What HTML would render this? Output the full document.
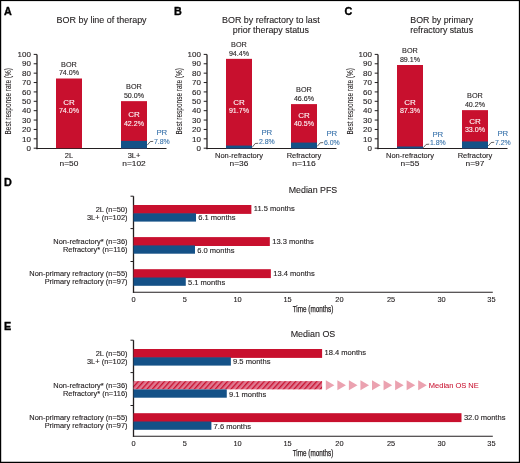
<!DOCTYPE html>
<html><head><meta charset="utf-8"><style>
html,body{margin:0;padding:0;background:#fff;}
svg{display:block;font-family:"Liberation Sans", sans-serif;will-change:transform;}
</style></head><body>
<svg width="520" height="463" viewBox="0 0 520 463">
<rect width="520" height="463" fill="#fff"/>
<defs><pattern id="hatch" patternUnits="userSpaceOnUse" width="3.9" height="10" patternTransform="translate(133.5,380) rotate(42)">
<rect width="3.9" height="10" fill="#e07890"/><rect width="1.3" height="10" fill="#c8102e"/></pattern></defs>
<rect x="0" y="0" width="520" height="1.1" fill="#000"/>
<rect x="0" y="0" width="1.2" height="463" fill="#000"/>
<rect x="518.85" y="0" width="1.15" height="463" fill="#000"/>
<rect x="0" y="461.75" width="520" height="1.25" fill="#000"/>
<text x="4" y="15" font-size="10.8" text-anchor="start" fill="#000" font-weight="bold" stroke="#000" stroke-width="0.35" >A</text>
<text x="101.6" y="22.6" font-size="9.8" text-anchor="middle" fill="#231f20" font-weight="normal" textLength="90" lengthAdjust="spacingAndGlyphs" stroke="#231f20" stroke-width="0.12" >BOR by line of therapy</text>
<text transform="translate(11.3,101.3) rotate(-90)" font-size="9.3" text-anchor="middle" fill="#231f20" stroke="#231f20" stroke-width="0.1" textLength="66.4" lengthAdjust="spacingAndGlyphs">Best response rate (%)</text>
<line x1="37" y1="54.5" x2="37" y2="149.2" stroke="#231f20" stroke-width="1.3"/>
<line x1="36.4" y1="148.5" x2="166.5" y2="148.5" stroke="#231f20" stroke-width="1.1"/>
<line x1="33.7" y1="148.2" x2="37" y2="148.2" stroke="#231f20" stroke-width="1.0"/>
<text x="30.9" y="150.89999999999998" font-size="8.0" text-anchor="end" fill="#231f20" font-weight="normal" stroke="#231f20" stroke-width="0.12" >0</text>
<line x1="33.7" y1="138.82" x2="37" y2="138.82" stroke="#231f20" stroke-width="1.0"/>
<text x="30.9" y="141.51999999999998" font-size="8.0" text-anchor="end" fill="#231f20" font-weight="normal" stroke="#231f20" stroke-width="0.12" >10</text>
<line x1="33.7" y1="129.44" x2="37" y2="129.44" stroke="#231f20" stroke-width="1.0"/>
<text x="30.9" y="132.14" font-size="8.0" text-anchor="end" fill="#231f20" font-weight="normal" stroke="#231f20" stroke-width="0.12" >20</text>
<line x1="33.7" y1="120.05999999999999" x2="37" y2="120.05999999999999" stroke="#231f20" stroke-width="1.0"/>
<text x="30.9" y="122.75999999999999" font-size="8.0" text-anchor="end" fill="#231f20" font-weight="normal" stroke="#231f20" stroke-width="0.12" >30</text>
<line x1="33.7" y1="110.67999999999999" x2="37" y2="110.67999999999999" stroke="#231f20" stroke-width="1.0"/>
<text x="30.9" y="113.38" font-size="8.0" text-anchor="end" fill="#231f20" font-weight="normal" stroke="#231f20" stroke-width="0.12" >40</text>
<line x1="33.7" y1="101.29999999999998" x2="37" y2="101.29999999999998" stroke="#231f20" stroke-width="1.0"/>
<text x="30.9" y="103.99999999999999" font-size="8.0" text-anchor="end" fill="#231f20" font-weight="normal" stroke="#231f20" stroke-width="0.12" >50</text>
<line x1="33.7" y1="91.91999999999999" x2="37" y2="91.91999999999999" stroke="#231f20" stroke-width="1.0"/>
<text x="30.9" y="94.61999999999999" font-size="8.0" text-anchor="end" fill="#231f20" font-weight="normal" stroke="#231f20" stroke-width="0.12" >60</text>
<line x1="33.7" y1="82.53999999999999" x2="37" y2="82.53999999999999" stroke="#231f20" stroke-width="1.0"/>
<text x="30.9" y="85.24" font-size="8.0" text-anchor="end" fill="#231f20" font-weight="normal" stroke="#231f20" stroke-width="0.12" >70</text>
<line x1="33.7" y1="73.16" x2="37" y2="73.16" stroke="#231f20" stroke-width="1.0"/>
<text x="30.9" y="75.86" font-size="8.0" text-anchor="end" fill="#231f20" font-weight="normal" stroke="#231f20" stroke-width="0.12" >80</text>
<line x1="33.7" y1="63.77999999999999" x2="37" y2="63.77999999999999" stroke="#231f20" stroke-width="1.0"/>
<text x="30.9" y="66.47999999999999" font-size="8.0" text-anchor="end" fill="#231f20" font-weight="normal" stroke="#231f20" stroke-width="0.12" >90</text>
<line x1="33.7" y1="54.39999999999999" x2="37" y2="54.39999999999999" stroke="#231f20" stroke-width="1.0"/>
<text x="30.9" y="57.099999999999994" font-size="8.0" text-anchor="end" fill="#231f20" font-weight="normal" stroke="#231f20" stroke-width="0.12" >100</text>
<rect x="56" y="78.5" width="26" height="69.69999999999999" fill="#c8102e"/>
<text x="69.0" y="66.8" font-size="8.0" text-anchor="middle" fill="#231f20" font-weight="normal" textLength="15.8" lengthAdjust="spacingAndGlyphs" stroke="#231f20" stroke-width="0.12" >BOR</text>
<text x="69.0" y="75.3" font-size="8.0" text-anchor="middle" fill="#231f20" font-weight="normal" textLength="20.2" lengthAdjust="spacingAndGlyphs" stroke="#231f20" stroke-width="0.12" >74.0%</text>
<text x="69.0" y="104.6" font-size="8.0" text-anchor="middle" fill="#fff" font-weight="normal" stroke="#fff" stroke-width="0.08" >CR</text>
<text x="69.0" y="112.89999999999999" font-size="8.0" text-anchor="middle" fill="#fff" font-weight="normal" textLength="20.2" lengthAdjust="spacingAndGlyphs" stroke="#fff" stroke-width="0.08" >74.0%</text>
<text x="69.0" y="157.5" font-size="7.5" text-anchor="middle" fill="#231f20" font-weight="normal" stroke="#231f20" stroke-width="0.12" >2L</text>
<text x="69.0" y="166.3" font-size="7.6" text-anchor="middle" fill="#231f20" font-weight="normal" textLength="18.83" lengthAdjust="spacingAndGlyphs" stroke="#231f20" stroke-width="0.12" >n=50</text>
<rect x="121" y="101.15" width="26" height="47.04999999999998" fill="#c8102e"/>
<rect x="121" y="140.8836" width="26" height="7.616399999999987" fill="#145187"/>
<text x="134.0" y="89.45" font-size="8.0" text-anchor="middle" fill="#231f20" font-weight="normal" textLength="15.8" lengthAdjust="spacingAndGlyphs" stroke="#231f20" stroke-width="0.12" >BOR</text>
<text x="134.0" y="97.95" font-size="8.0" text-anchor="middle" fill="#231f20" font-weight="normal" textLength="20.2" lengthAdjust="spacingAndGlyphs" stroke="#231f20" stroke-width="0.12" >50.0%</text>
<text x="134.0" y="117.2" font-size="8.0" text-anchor="middle" fill="#fff" font-weight="normal" stroke="#fff" stroke-width="0.08" >CR</text>
<text x="134.0" y="125.5" font-size="8.0" text-anchor="middle" fill="#fff" font-weight="normal" textLength="20.2" lengthAdjust="spacingAndGlyphs" stroke="#fff" stroke-width="0.08" >42.2%</text>
<polyline points="147.2,145.2 150.2,141.6 153.2,141.4" fill="none" stroke="#231f20" stroke-width="0.7"/>
<text x="153.9" y="143.8" font-size="7.8" text-anchor="start" fill="#3a74ac" font-weight="normal" textLength="15.8" lengthAdjust="spacingAndGlyphs" stroke="#3a74ac" stroke-width="0.12" >7.8%</text>
<text x="161.8" y="135.4" font-size="7.8" text-anchor="middle" fill="#3a74ac" font-weight="normal" stroke="#3a74ac" stroke-width="0.12" >PR</text>
<text x="134.0" y="157.5" font-size="7.5" text-anchor="middle" fill="#231f20" font-weight="normal" stroke="#231f20" stroke-width="0.12" >3L+</text>
<text x="134.0" y="166.3" font-size="7.6" text-anchor="middle" fill="#231f20" font-weight="normal" textLength="23.47" lengthAdjust="spacingAndGlyphs" stroke="#231f20" stroke-width="0.12" >n=102</text>
<text x="174" y="15" font-size="10.8" text-anchor="start" fill="#000" font-weight="bold" stroke="#000" stroke-width="0.35" >B</text>
<text x="270.9" y="22.6" font-size="9.8" text-anchor="middle" fill="#231f20" font-weight="normal" textLength="97.7" lengthAdjust="spacingAndGlyphs" stroke="#231f20" stroke-width="0.12" >BOR by refractory to last</text>
<text x="270.9" y="32.5" font-size="9.8" text-anchor="middle" fill="#231f20" font-weight="normal" textLength="76.2" lengthAdjust="spacingAndGlyphs" stroke="#231f20" stroke-width="0.12" >prior therapy status</text>
<text transform="translate(182.2,101.3) rotate(-90)" font-size="9.3" text-anchor="middle" fill="#231f20" stroke="#231f20" stroke-width="0.1" textLength="66.4" lengthAdjust="spacingAndGlyphs">Best response rate (%)</text>
<line x1="207" y1="54.5" x2="207" y2="149.2" stroke="#231f20" stroke-width="1.3"/>
<line x1="206.4" y1="148.5" x2="336.5" y2="148.5" stroke="#231f20" stroke-width="1.1"/>
<line x1="203.7" y1="148.2" x2="207" y2="148.2" stroke="#231f20" stroke-width="1.0"/>
<text x="200.9" y="150.89999999999998" font-size="8.0" text-anchor="end" fill="#231f20" font-weight="normal" stroke="#231f20" stroke-width="0.12" >0</text>
<line x1="203.7" y1="138.82" x2="207" y2="138.82" stroke="#231f20" stroke-width="1.0"/>
<text x="200.9" y="141.51999999999998" font-size="8.0" text-anchor="end" fill="#231f20" font-weight="normal" stroke="#231f20" stroke-width="0.12" >10</text>
<line x1="203.7" y1="129.44" x2="207" y2="129.44" stroke="#231f20" stroke-width="1.0"/>
<text x="200.9" y="132.14" font-size="8.0" text-anchor="end" fill="#231f20" font-weight="normal" stroke="#231f20" stroke-width="0.12" >20</text>
<line x1="203.7" y1="120.05999999999999" x2="207" y2="120.05999999999999" stroke="#231f20" stroke-width="1.0"/>
<text x="200.9" y="122.75999999999999" font-size="8.0" text-anchor="end" fill="#231f20" font-weight="normal" stroke="#231f20" stroke-width="0.12" >30</text>
<line x1="203.7" y1="110.67999999999999" x2="207" y2="110.67999999999999" stroke="#231f20" stroke-width="1.0"/>
<text x="200.9" y="113.38" font-size="8.0" text-anchor="end" fill="#231f20" font-weight="normal" stroke="#231f20" stroke-width="0.12" >40</text>
<line x1="203.7" y1="101.29999999999998" x2="207" y2="101.29999999999998" stroke="#231f20" stroke-width="1.0"/>
<text x="200.9" y="103.99999999999999" font-size="8.0" text-anchor="end" fill="#231f20" font-weight="normal" stroke="#231f20" stroke-width="0.12" >50</text>
<line x1="203.7" y1="91.91999999999999" x2="207" y2="91.91999999999999" stroke="#231f20" stroke-width="1.0"/>
<text x="200.9" y="94.61999999999999" font-size="8.0" text-anchor="end" fill="#231f20" font-weight="normal" stroke="#231f20" stroke-width="0.12" >60</text>
<line x1="203.7" y1="82.53999999999999" x2="207" y2="82.53999999999999" stroke="#231f20" stroke-width="1.0"/>
<text x="200.9" y="85.24" font-size="8.0" text-anchor="end" fill="#231f20" font-weight="normal" stroke="#231f20" stroke-width="0.12" >70</text>
<line x1="203.7" y1="73.16" x2="207" y2="73.16" stroke="#231f20" stroke-width="1.0"/>
<text x="200.9" y="75.86" font-size="8.0" text-anchor="end" fill="#231f20" font-weight="normal" stroke="#231f20" stroke-width="0.12" >80</text>
<line x1="203.7" y1="63.77999999999999" x2="207" y2="63.77999999999999" stroke="#231f20" stroke-width="1.0"/>
<text x="200.9" y="66.47999999999999" font-size="8.0" text-anchor="end" fill="#231f20" font-weight="normal" stroke="#231f20" stroke-width="0.12" >90</text>
<line x1="203.7" y1="54.39999999999999" x2="207" y2="54.39999999999999" stroke="#231f20" stroke-width="1.0"/>
<text x="200.9" y="57.099999999999994" font-size="8.0" text-anchor="end" fill="#231f20" font-weight="normal" stroke="#231f20" stroke-width="0.12" >100</text>
<rect x="226" y="58.85" width="26" height="89.35" fill="#c8102e"/>
<rect x="226" y="145.5736" width="26" height="2.9263999999999895" fill="#145187"/>
<text x="239.0" y="47.150000000000006" font-size="8.0" text-anchor="middle" fill="#231f20" font-weight="normal" textLength="15.8" lengthAdjust="spacingAndGlyphs" stroke="#231f20" stroke-width="0.12" >BOR</text>
<text x="239.0" y="55.65" font-size="8.0" text-anchor="middle" fill="#231f20" font-weight="normal" textLength="20.2" lengthAdjust="spacingAndGlyphs" stroke="#231f20" stroke-width="0.12" >94.4%</text>
<text x="239.0" y="104.6" font-size="8.0" text-anchor="middle" fill="#fff" font-weight="normal" stroke="#fff" stroke-width="0.08" >CR</text>
<text x="239.0" y="112.89999999999999" font-size="8.0" text-anchor="middle" fill="#fff" font-weight="normal" textLength="20.2" lengthAdjust="spacingAndGlyphs" stroke="#fff" stroke-width="0.08" >91.7%</text>
<polyline points="252.2,147.4 255.2,143.5 258.2,143.3" fill="none" stroke="#231f20" stroke-width="0.7"/>
<text x="258.9" y="143.8" font-size="7.8" text-anchor="start" fill="#3a74ac" font-weight="normal" textLength="15.8" lengthAdjust="spacingAndGlyphs" stroke="#3a74ac" stroke-width="0.12" >2.8%</text>
<text x="266.8" y="135.1" font-size="7.8" text-anchor="middle" fill="#3a74ac" font-weight="normal" stroke="#3a74ac" stroke-width="0.12" >PR</text>
<text x="239.0" y="157.5" font-size="7.5" text-anchor="middle" fill="#231f20" font-weight="normal" stroke="#231f20" stroke-width="0.12" >Non-refractory</text>
<text x="239.0" y="166.3" font-size="7.6" text-anchor="middle" fill="#231f20" font-weight="normal" textLength="18.83" lengthAdjust="spacingAndGlyphs" stroke="#231f20" stroke-width="0.12" >n=36</text>
<rect x="291" y="104.1" width="26" height="44.099999999999994" fill="#c8102e"/>
<rect x="291" y="142.572" width="26" height="5.927999999999986" fill="#145187"/>
<text x="304.0" y="92.39999999999999" font-size="8.0" text-anchor="middle" fill="#231f20" font-weight="normal" textLength="15.8" lengthAdjust="spacingAndGlyphs" stroke="#231f20" stroke-width="0.12" >BOR</text>
<text x="304.0" y="100.89999999999999" font-size="8.0" text-anchor="middle" fill="#231f20" font-weight="normal" textLength="20.2" lengthAdjust="spacingAndGlyphs" stroke="#231f20" stroke-width="0.12" >46.6%</text>
<text x="304.0" y="117.6" font-size="8.0" text-anchor="middle" fill="#fff" font-weight="normal" stroke="#fff" stroke-width="0.08" >CR</text>
<text x="304.0" y="125.89999999999999" font-size="8.0" text-anchor="middle" fill="#fff" font-weight="normal" textLength="20.2" lengthAdjust="spacingAndGlyphs" stroke="#fff" stroke-width="0.08" >40.5%</text>
<polyline points="317.2,146.4 320.2,142.8 323.2,142.60000000000002" fill="none" stroke="#231f20" stroke-width="0.7"/>
<text x="323.9" y="144.5" font-size="7.8" text-anchor="start" fill="#3a74ac" font-weight="normal" textLength="15.8" lengthAdjust="spacingAndGlyphs" stroke="#3a74ac" stroke-width="0.12" >6.0%</text>
<text x="331.8" y="135.8" font-size="7.8" text-anchor="middle" fill="#3a74ac" font-weight="normal" stroke="#3a74ac" stroke-width="0.12" >PR</text>
<text x="304.0" y="157.5" font-size="7.5" text-anchor="middle" fill="#231f20" font-weight="normal" stroke="#231f20" stroke-width="0.12" >Refractory</text>
<text x="304.0" y="166.3" font-size="7.6" text-anchor="middle" fill="#231f20" font-weight="normal" textLength="23.47" lengthAdjust="spacingAndGlyphs" stroke="#231f20" stroke-width="0.12" >n=116</text>
<text x="344.5" y="15" font-size="10.8" text-anchor="start" fill="#000" font-weight="bold" stroke="#000" stroke-width="0.35" >C</text>
<text x="441.7" y="22.6" font-size="9.8" text-anchor="middle" fill="#231f20" font-weight="normal" textLength="62.8" lengthAdjust="spacingAndGlyphs" stroke="#231f20" stroke-width="0.12" >BOR by primary</text>
<text x="441.7" y="32.5" font-size="9.8" text-anchor="middle" fill="#231f20" font-weight="normal" textLength="62.8" lengthAdjust="spacingAndGlyphs" stroke="#231f20" stroke-width="0.12" >refractory status</text>
<text transform="translate(353.2,101.3) rotate(-90)" font-size="9.3" text-anchor="middle" fill="#231f20" stroke="#231f20" stroke-width="0.1" textLength="66.4" lengthAdjust="spacingAndGlyphs">Best response rate (%)</text>
<line x1="378" y1="54.5" x2="378" y2="149.2" stroke="#231f20" stroke-width="1.3"/>
<line x1="377.4" y1="148.5" x2="507.5" y2="148.5" stroke="#231f20" stroke-width="1.1"/>
<line x1="374.7" y1="148.2" x2="378" y2="148.2" stroke="#231f20" stroke-width="1.0"/>
<text x="371.9" y="150.89999999999998" font-size="8.0" text-anchor="end" fill="#231f20" font-weight="normal" stroke="#231f20" stroke-width="0.12" >0</text>
<line x1="374.7" y1="138.82" x2="378" y2="138.82" stroke="#231f20" stroke-width="1.0"/>
<text x="371.9" y="141.51999999999998" font-size="8.0" text-anchor="end" fill="#231f20" font-weight="normal" stroke="#231f20" stroke-width="0.12" >10</text>
<line x1="374.7" y1="129.44" x2="378" y2="129.44" stroke="#231f20" stroke-width="1.0"/>
<text x="371.9" y="132.14" font-size="8.0" text-anchor="end" fill="#231f20" font-weight="normal" stroke="#231f20" stroke-width="0.12" >20</text>
<line x1="374.7" y1="120.05999999999999" x2="378" y2="120.05999999999999" stroke="#231f20" stroke-width="1.0"/>
<text x="371.9" y="122.75999999999999" font-size="8.0" text-anchor="end" fill="#231f20" font-weight="normal" stroke="#231f20" stroke-width="0.12" >30</text>
<line x1="374.7" y1="110.67999999999999" x2="378" y2="110.67999999999999" stroke="#231f20" stroke-width="1.0"/>
<text x="371.9" y="113.38" font-size="8.0" text-anchor="end" fill="#231f20" font-weight="normal" stroke="#231f20" stroke-width="0.12" >40</text>
<line x1="374.7" y1="101.29999999999998" x2="378" y2="101.29999999999998" stroke="#231f20" stroke-width="1.0"/>
<text x="371.9" y="103.99999999999999" font-size="8.0" text-anchor="end" fill="#231f20" font-weight="normal" stroke="#231f20" stroke-width="0.12" >50</text>
<line x1="374.7" y1="91.91999999999999" x2="378" y2="91.91999999999999" stroke="#231f20" stroke-width="1.0"/>
<text x="371.9" y="94.61999999999999" font-size="8.0" text-anchor="end" fill="#231f20" font-weight="normal" stroke="#231f20" stroke-width="0.12" >60</text>
<line x1="374.7" y1="82.53999999999999" x2="378" y2="82.53999999999999" stroke="#231f20" stroke-width="1.0"/>
<text x="371.9" y="85.24" font-size="8.0" text-anchor="end" fill="#231f20" font-weight="normal" stroke="#231f20" stroke-width="0.12" >70</text>
<line x1="374.7" y1="73.16" x2="378" y2="73.16" stroke="#231f20" stroke-width="1.0"/>
<text x="371.9" y="75.86" font-size="8.0" text-anchor="end" fill="#231f20" font-weight="normal" stroke="#231f20" stroke-width="0.12" >80</text>
<line x1="374.7" y1="63.77999999999999" x2="378" y2="63.77999999999999" stroke="#231f20" stroke-width="1.0"/>
<text x="371.9" y="66.47999999999999" font-size="8.0" text-anchor="end" fill="#231f20" font-weight="normal" stroke="#231f20" stroke-width="0.12" >90</text>
<line x1="374.7" y1="54.39999999999999" x2="378" y2="54.39999999999999" stroke="#231f20" stroke-width="1.0"/>
<text x="371.9" y="57.099999999999994" font-size="8.0" text-anchor="end" fill="#231f20" font-weight="normal" stroke="#231f20" stroke-width="0.12" >100</text>
<rect x="397" y="65.0" width="26" height="83.19999999999999" fill="#c8102e"/>
<rect x="397" y="146.5116" width="26" height="1.9884000000000015" fill="#145187"/>
<text x="410.0" y="53.3" font-size="8.0" text-anchor="middle" fill="#231f20" font-weight="normal" textLength="15.8" lengthAdjust="spacingAndGlyphs" stroke="#231f20" stroke-width="0.12" >BOR</text>
<text x="410.0" y="61.8" font-size="8.0" text-anchor="middle" fill="#231f20" font-weight="normal" textLength="20.2" lengthAdjust="spacingAndGlyphs" stroke="#231f20" stroke-width="0.12" >89.1%</text>
<text x="410.0" y="104.6" font-size="8.0" text-anchor="middle" fill="#fff" font-weight="normal" stroke="#fff" stroke-width="0.08" >CR</text>
<text x="410.0" y="112.89999999999999" font-size="8.0" text-anchor="middle" fill="#fff" font-weight="normal" textLength="20.2" lengthAdjust="spacingAndGlyphs" stroke="#fff" stroke-width="0.08" >87.3%</text>
<polyline points="423.2,147.8 426.2,144.4 429.2,144.20000000000002" fill="none" stroke="#231f20" stroke-width="0.7"/>
<text x="429.9" y="145.20000000000002" font-size="7.8" text-anchor="start" fill="#3a74ac" font-weight="normal" textLength="15.8" lengthAdjust="spacingAndGlyphs" stroke="#3a74ac" stroke-width="0.12" >1.8%</text>
<text x="437.8" y="136.8" font-size="7.8" text-anchor="middle" fill="#3a74ac" font-weight="normal" stroke="#3a74ac" stroke-width="0.12" >PR</text>
<text x="410.0" y="157.5" font-size="7.5" text-anchor="middle" fill="#231f20" font-weight="normal" stroke="#231f20" stroke-width="0.12" >Non-refractory</text>
<text x="410.0" y="166.3" font-size="7.6" text-anchor="middle" fill="#231f20" font-weight="normal" textLength="18.83" lengthAdjust="spacingAndGlyphs" stroke="#231f20" stroke-width="0.12" >n=55</text>
<rect x="462" y="110.15" width="26" height="38.04999999999998" fill="#c8102e"/>
<rect x="462" y="141.44639999999998" width="26" height="7.053600000000006" fill="#145187"/>
<text x="475.0" y="98.45" font-size="8.0" text-anchor="middle" fill="#231f20" font-weight="normal" textLength="15.8" lengthAdjust="spacingAndGlyphs" stroke="#231f20" stroke-width="0.12" >BOR</text>
<text x="475.0" y="106.95" font-size="8.0" text-anchor="middle" fill="#231f20" font-weight="normal" textLength="20.2" lengthAdjust="spacingAndGlyphs" stroke="#231f20" stroke-width="0.12" >40.2%</text>
<text x="475.0" y="123.5" font-size="8.0" text-anchor="middle" fill="#fff" font-weight="normal" stroke="#fff" stroke-width="0.08" >CR</text>
<text x="475.0" y="131.8" font-size="8.0" text-anchor="middle" fill="#fff" font-weight="normal" textLength="20.2" lengthAdjust="spacingAndGlyphs" stroke="#fff" stroke-width="0.08" >33.0%</text>
<polyline points="488.2,146.0 491.2,142.5 494.2,142.3" fill="none" stroke="#231f20" stroke-width="0.7"/>
<text x="494.9" y="144.8" font-size="7.8" text-anchor="start" fill="#3a74ac" font-weight="normal" textLength="15.8" lengthAdjust="spacingAndGlyphs" stroke="#3a74ac" stroke-width="0.12" >7.2%</text>
<text x="502.8" y="135.8" font-size="7.8" text-anchor="middle" fill="#3a74ac" font-weight="normal" stroke="#3a74ac" stroke-width="0.12" >PR</text>
<text x="475.0" y="157.5" font-size="7.5" text-anchor="middle" fill="#231f20" font-weight="normal" stroke="#231f20" stroke-width="0.12" >Refractory</text>
<text x="475.0" y="166.3" font-size="7.6" text-anchor="middle" fill="#231f20" font-weight="normal" textLength="18.83" lengthAdjust="spacingAndGlyphs" stroke="#231f20" stroke-width="0.12" >n=97</text>
<text x="4" y="186" font-size="10.8" text-anchor="start" fill="#000" font-weight="bold" stroke="#000" stroke-width="0.35" >D</text>
<text x="313" y="192.7" font-size="9.7" text-anchor="middle" fill="#231f20" font-weight="normal" textLength="48.5" lengthAdjust="spacingAndGlyphs" stroke="#231f20" stroke-width="0.12" >Median PFS</text>
<line x1="133.5" y1="196.2" x2="133.5" y2="292.8" stroke="#231f20" stroke-width="1.3"/>
<line x1="132.9" y1="292.3" x2="492.8" y2="292.3" stroke="#231f20" stroke-width="1.1"/>
<line x1="130.5" y1="196.2" x2="133.5" y2="196.2" stroke="#231f20" stroke-width="1.0"/>
<line x1="130.5" y1="228.6" x2="133.5" y2="228.6" stroke="#231f20" stroke-width="1.0"/>
<line x1="130.5" y1="261.5" x2="133.5" y2="261.5" stroke="#231f20" stroke-width="1.0"/>
<text x="133.6" y="301.8" font-size="7.4" text-anchor="middle" fill="#231f20" font-weight="normal" stroke="#231f20" stroke-width="0.12" >0</text>
<text x="184.9" y="301.8" font-size="7.4" text-anchor="middle" fill="#231f20" font-weight="normal" stroke="#231f20" stroke-width="0.12" >5</text>
<text x="237.5" y="301.8" font-size="7.4" text-anchor="middle" fill="#231f20" font-weight="normal" stroke="#231f20" stroke-width="0.12" >10</text>
<text x="287.5" y="301.8" font-size="7.4" text-anchor="middle" fill="#231f20" font-weight="normal" stroke="#231f20" stroke-width="0.12" >15</text>
<text x="339.4" y="301.8" font-size="7.4" text-anchor="middle" fill="#231f20" font-weight="normal" stroke="#231f20" stroke-width="0.12" >20</text>
<text x="391.0" y="301.8" font-size="7.4" text-anchor="middle" fill="#231f20" font-weight="normal" stroke="#231f20" stroke-width="0.12" >25</text>
<text x="441.6" y="301.8" font-size="7.4" text-anchor="middle" fill="#231f20" font-weight="normal" stroke="#231f20" stroke-width="0.12" >30</text>
<text x="491.4" y="301.8" font-size="7.4" text-anchor="middle" fill="#231f20" font-weight="normal" stroke="#231f20" stroke-width="0.12" >35</text>
<text x="313" y="312.3" font-size="8.8" text-anchor="middle" fill="#231f20" font-weight="normal" textLength="40.7" lengthAdjust="spacingAndGlyphs" stroke="#231f20" stroke-width="0.25" >Time (months)</text>
<rect x="133.5" y="205.0" width="117.875" height="8.9" fill="#c8102e"/>
<rect x="133.5" y="213.3" width="62.525000000000006" height="8.3" fill="#145187"/>
<text x="127.5" y="211.7" font-size="7.45" text-anchor="end" fill="#231f20" font-weight="normal" stroke="#231f20" stroke-width="0.12" >2L (n=50)</text>
<text x="127.5" y="220.1" font-size="7.45" text-anchor="end" fill="#231f20" font-weight="normal" stroke="#231f20" stroke-width="0.12" >3L+ (n=102)</text>
<text x="253.775" y="211.4" font-size="7.55" text-anchor="start" fill="#231f20" font-weight="normal" stroke="#231f20" stroke-width="0.12" >11.5 months</text>
<text x="198.225" y="220.4" font-size="7.55" text-anchor="start" fill="#231f20" font-weight="normal" stroke="#231f20" stroke-width="0.12" >6.1 months</text>
<rect x="133.5" y="237.1" width="136.32500000000005" height="8.9" fill="#c8102e"/>
<rect x="133.5" y="245.4" width="61.5" height="8.3" fill="#145187"/>
<text x="127.5" y="243.79999999999998" font-size="7.45" text-anchor="end" fill="#231f20" font-weight="normal" stroke="#231f20" stroke-width="0.12" >Non-refractory* (n=36)</text>
<text x="127.5" y="252.2" font-size="7.45" text-anchor="end" fill="#231f20" font-weight="normal" stroke="#231f20" stroke-width="0.12" >Refractory* (n=116)</text>
<text x="272.225" y="243.5" font-size="7.55" text-anchor="start" fill="#231f20" font-weight="normal" stroke="#231f20" stroke-width="0.12" >13.3 months</text>
<text x="197.2" y="252.5" font-size="7.55" text-anchor="start" fill="#231f20" font-weight="normal" stroke="#231f20" stroke-width="0.12" >6.0 months</text>
<rect x="133.5" y="269.2" width="137.35000000000002" height="8.9" fill="#c8102e"/>
<rect x="133.5" y="277.5" width="52.275000000000006" height="8.3" fill="#145187"/>
<text x="127.5" y="275.9" font-size="7.45" text-anchor="end" fill="#231f20" font-weight="normal" stroke="#231f20" stroke-width="0.12" >Non-primary refractory (n=55)</text>
<text x="127.5" y="284.3" font-size="7.45" text-anchor="end" fill="#231f20" font-weight="normal" stroke="#231f20" stroke-width="0.12" >Primary refractory (n=97)</text>
<text x="273.25" y="275.59999999999997" font-size="7.55" text-anchor="start" fill="#231f20" font-weight="normal" stroke="#231f20" stroke-width="0.12" >13.4 months</text>
<text x="187.975" y="284.59999999999997" font-size="7.55" text-anchor="start" fill="#231f20" font-weight="normal" stroke="#231f20" stroke-width="0.12" >5.1 months</text>
<text x="4" y="330.0" font-size="10.8" text-anchor="start" fill="#000" font-weight="bold" stroke="#000" stroke-width="0.35" >E</text>
<text x="313" y="336.7" font-size="9.7" text-anchor="middle" fill="#231f20" font-weight="normal" textLength="44.6" lengthAdjust="spacingAndGlyphs" stroke="#231f20" stroke-width="0.12" >Median OS</text>
<line x1="133.5" y1="340.2" x2="133.5" y2="436.8" stroke="#231f20" stroke-width="1.3"/>
<line x1="132.9" y1="436.3" x2="492.8" y2="436.3" stroke="#231f20" stroke-width="1.1"/>
<line x1="130.5" y1="340.2" x2="133.5" y2="340.2" stroke="#231f20" stroke-width="1.0"/>
<line x1="130.5" y1="372.6" x2="133.5" y2="372.6" stroke="#231f20" stroke-width="1.0"/>
<line x1="130.5" y1="405.5" x2="133.5" y2="405.5" stroke="#231f20" stroke-width="1.0"/>
<text x="133.6" y="445.8" font-size="7.4" text-anchor="middle" fill="#231f20" font-weight="normal" stroke="#231f20" stroke-width="0.12" >0</text>
<text x="184.9" y="445.8" font-size="7.4" text-anchor="middle" fill="#231f20" font-weight="normal" stroke="#231f20" stroke-width="0.12" >5</text>
<text x="237.5" y="445.8" font-size="7.4" text-anchor="middle" fill="#231f20" font-weight="normal" stroke="#231f20" stroke-width="0.12" >10</text>
<text x="287.5" y="445.8" font-size="7.4" text-anchor="middle" fill="#231f20" font-weight="normal" stroke="#231f20" stroke-width="0.12" >15</text>
<text x="339.4" y="445.8" font-size="7.4" text-anchor="middle" fill="#231f20" font-weight="normal" stroke="#231f20" stroke-width="0.12" >20</text>
<text x="391.0" y="445.8" font-size="7.4" text-anchor="middle" fill="#231f20" font-weight="normal" stroke="#231f20" stroke-width="0.12" >25</text>
<text x="441.6" y="445.8" font-size="7.4" text-anchor="middle" fill="#231f20" font-weight="normal" stroke="#231f20" stroke-width="0.12" >30</text>
<text x="491.4" y="445.8" font-size="7.4" text-anchor="middle" fill="#231f20" font-weight="normal" stroke="#231f20" stroke-width="0.12" >35</text>
<text x="313" y="456.3" font-size="8.8" text-anchor="middle" fill="#231f20" font-weight="normal" textLength="40.7" lengthAdjust="spacingAndGlyphs" stroke="#231f20" stroke-width="0.25" >Time (months)</text>
<rect x="133.5" y="349.0" width="188.60000000000002" height="8.9" fill="#c8102e"/>
<rect x="133.5" y="357.3" width="97.375" height="8.3" fill="#145187"/>
<text x="127.5" y="355.7" font-size="7.45" text-anchor="end" fill="#231f20" font-weight="normal" stroke="#231f20" stroke-width="0.12" >2L (n=50)</text>
<text x="127.5" y="364.1" font-size="7.45" text-anchor="end" fill="#231f20" font-weight="normal" stroke="#231f20" stroke-width="0.12" >3L+ (n=102)</text>
<text x="324.5" y="355.4" font-size="7.55" text-anchor="start" fill="#231f20" font-weight="normal" stroke="#231f20" stroke-width="0.12" >18.4 months</text>
<text x="233.075" y="364.4" font-size="7.55" text-anchor="start" fill="#231f20" font-weight="normal" stroke="#231f20" stroke-width="0.12" >9.5 months</text>
<rect x="133.5" y="381.1" width="188.60000000000002" height="8.3" fill="url(#hatch)"/>
<rect x="133.5" y="389.40000000000003" width="93.27499999999998" height="8.3" fill="#145187"/>
<text x="127.5" y="387.8" font-size="7.45" text-anchor="end" fill="#231f20" font-weight="normal" stroke="#231f20" stroke-width="0.12" >Non-refractory* (n=36)</text>
<text x="127.5" y="396.20000000000005" font-size="7.45" text-anchor="end" fill="#231f20" font-weight="normal" stroke="#231f20" stroke-width="0.12" >Refractory* (n=116)</text>
<text x="228.97499999999997" y="396.5" font-size="7.55" text-anchor="start" fill="#231f20" font-weight="normal" stroke="#231f20" stroke-width="0.12" >9.1 months</text>
<polygon points="325.8,380.3 334.40000000000003,385.25 325.8,390.20000000000005" fill="#eba2b0"/>
<polygon points="337.35,380.3 345.95000000000005,385.25 337.35,390.20000000000005" fill="#eba2b0"/>
<polygon points="348.90000000000003,380.3 357.50000000000006,385.25 348.90000000000003,390.20000000000005" fill="#eba2b0"/>
<polygon points="360.45000000000005,380.3 369.05000000000007,385.25 360.45000000000005,390.20000000000005" fill="#eba2b0"/>
<polygon points="372.0,380.3 380.6,385.25 372.0,390.20000000000005" fill="#eba2b0"/>
<polygon points="383.55,380.3 392.15000000000003,385.25 383.55,390.20000000000005" fill="#eba2b0"/>
<polygon points="395.1,380.3 403.70000000000005,385.25 395.1,390.20000000000005" fill="#eba2b0"/>
<polygon points="406.65000000000003,380.3 415.25000000000006,385.25 406.65000000000003,390.20000000000005" fill="#eba2b0"/>
<polygon points="418.20000000000005,380.3 426.80000000000007,385.25 418.20000000000005,390.20000000000005" fill="#eba2b0"/>
<text x="428.8" y="388.0" font-size="7.6" text-anchor="start" fill="#c8102e" font-weight="normal" textLength="50" lengthAdjust="spacingAndGlyphs" stroke="#c8102e" stroke-width="0.05" >Median OS NE</text>
<rect x="133.5" y="413.2" width="328.0" height="8.9" fill="#c8102e"/>
<rect x="133.5" y="421.5" width="77.89999999999998" height="8.3" fill="#145187"/>
<text x="127.5" y="419.9" font-size="7.45" text-anchor="end" fill="#231f20" font-weight="normal" stroke="#231f20" stroke-width="0.12" >Non-primary refractory (n=55)</text>
<text x="127.5" y="428.3" font-size="7.45" text-anchor="end" fill="#231f20" font-weight="normal" stroke="#231f20" stroke-width="0.12" >Primary refractory (n=97)</text>
<text x="463.9" y="419.59999999999997" font-size="7.55" text-anchor="start" fill="#231f20" font-weight="normal" stroke="#231f20" stroke-width="0.12" >32.0 months</text>
<text x="213.59999999999997" y="428.59999999999997" font-size="7.55" text-anchor="start" fill="#231f20" font-weight="normal" stroke="#231f20" stroke-width="0.12" >7.6 months</text>
</svg></body></html>
